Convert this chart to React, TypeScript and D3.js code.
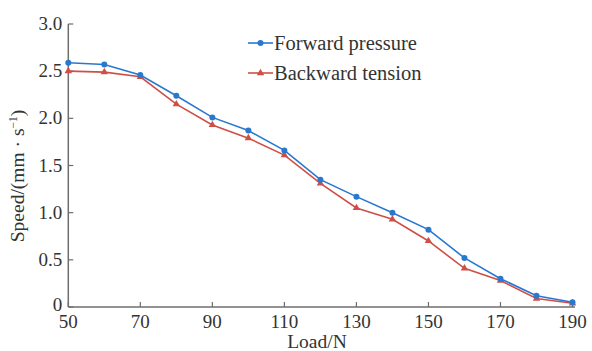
import React from "react";
import * as d3 from "d3";

const loads = [50, 60, 70, 80, 90, 100, 110, 120, 130, 140, 150, 160, 170, 180, 190];
const forwardPressure = [2.59, 2.57, 2.46, 2.24, 2.01, 1.87, 1.66, 1.35, 1.17, 1.0, 0.82, 0.52, 0.3, 0.12, 0.05];
const backwardTension = [2.5, 2.49, 2.44, 2.15, 1.93, 1.79, 1.61, 1.31, 1.05, 0.93, 0.7, 0.41, 0.28, 0.09, 0.04];
const xTicks = [50, 70, 90, 110, 130, 150, 170, 190];
const yTicks = [0, 0.5, 1.0, 1.5, 2.0, 2.5, 3.0];
const yTickLabels = ["0", "0.5", "1.0", "1.5", "2.0", "2.5", "3.0"];

const W = 592, H = 351;
const FONT = "'Liberation Serif', 'Times New Roman', serif";
const BLUE = "#2878d0";
const RED = "#cf4f47";
const AXIS = "#6e6e6e";
const TXT = "#333";

export default function App() {
  const x = d3.scaleLinear().domain([50, 190]).range([68.3, 572.5]);
  const y = d3.scaleLinear().domain([0, 3]).range([307, 24]);
  const line = d3.line<number>().x((_, i) => x(loads[i])).y((d) => y(d));
  const tri = d3.symbol().type(d3.symbolTriangle).size(24)();

  return (
    <svg width={W} height={H} style={{ position: "absolute", left: 0, top: 0, background: "#fff" }} fontFamily={FONT}>
      <line x1={x(50)} x2={575} y1={y(0)} y2={y(0)} stroke={AXIS} strokeWidth={1.5} />
      <line x1={x(50)} x2={x(50)} y1={y(0)} y2={y(3)} stroke={AXIS} strokeWidth={1.5} />
      {xTicks.map((t) => (
        <g key={"x" + t}>
          <line x1={x(t)} x2={x(t)} y1={y(0)} y2={y(0) - 5} stroke={AXIS} strokeWidth={1.2} />
          <text x={x(t)} y={y(0) + 21} textAnchor="middle" fontSize={19} fill={TXT}>{t}</text>
        </g>
      ))}
      {yTicks.map((t, i) => (
        <g key={"y" + t}>
          <line x1={x(50)} x2={x(50) + 5} y1={y(t)} y2={y(t)} stroke={AXIS} strokeWidth={1.2} />
          <text x={x(50) - 6} y={y(t) + (t === 0 ? 4 : 6)} textAnchor="end" fontSize={19} fill={TXT}>{yTickLabels[i]}</text>
        </g>
      ))}
      <text x={317} y={348} textAnchor="middle" fontSize={19.5} fill={TXT}>Load/N</text>
      <text transform={`translate(24,176) rotate(-90)`} textAnchor="middle" fontSize={19.5} fill={TXT}>
        Speed/(mm · s<tspan dy={-7} fontSize={11.5}>−1</tspan><tspan dy={7}>)</tspan>
      </text>

      <path d={line(backwardTension) || ""} fill="none" stroke={RED} strokeWidth={1.6} />
      {backwardTension.map((v, i) => (
        <path key={"b" + i} d={tri || ""} transform={`translate(${x(loads[i])},${y(v)})`} fill={RED} />
      ))}
      <path d={line(forwardPressure) || ""} fill="none" stroke={BLUE} strokeWidth={1.6} />
      {forwardPressure.map((v, i) => (
        <circle key={"f" + i} cx={x(loads[i])} cy={y(v)} r={3} fill={BLUE} />
      ))}

      <line x1={248} x2={273} y1={43} y2={43} stroke={BLUE} strokeWidth={1.6} />
      <circle cx={260.5} cy={43} r={3} fill={BLUE} />
      <text x={274} y={50} fontSize={20.5} fill={TXT}>Forward pressure</text>
      <line x1={248} x2={273} y1={73} y2={73} stroke={RED} strokeWidth={1.6} />
      <path d={tri || ""} transform="translate(260.5,73)" fill={RED} />
      <text x={274} y={80} fontSize={20.5} fill={TXT}>Backward tension</text>
    </svg>
  );
}
